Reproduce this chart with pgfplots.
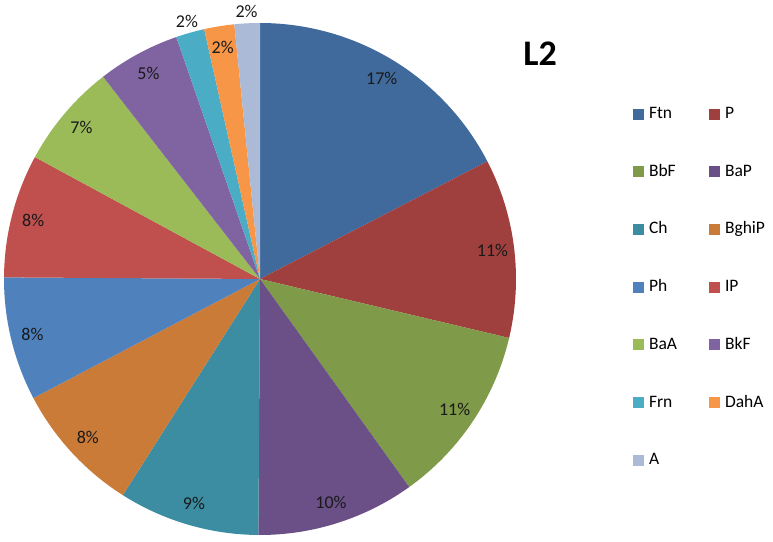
\documentclass[border=0pt]{standalone}
\usepackage{pgfplots}
\pgfplotsset{compat=1.18}
\usepackage{fontspec}
\setmainfont{Carlito}
\definecolor{cFtn}{HTML}{416A9C}
\definecolor{cP}{HTML}{A0403E}
\definecolor{cBbF}{HTML}{7F9A48}
\definecolor{cBaP}{HTML}{6A5086}
\definecolor{cCh}{HTML}{3C8DA2}
\definecolor{cBghiP}{HTML}{CB7B38}
\definecolor{cPh}{HTML}{4F81BD}
\definecolor{cIP}{HTML}{C0504D}
\definecolor{cBaA}{HTML}{9BBB59}
\definecolor{cBkF}{HTML}{8064A2}
\definecolor{cFrn}{HTML}{4BACC6}
\definecolor{cDahA}{HTML}{F79646}
\definecolor{cA}{HTML}{AABAD7}
\gdef\cum{0}
\newcommand\slice[4]{%
  \pgfmathsetmacro{\sa}{90-3.6*(\cum+#1)}%
  \pgfmathsetmacro{\sb}{90-3.6*\cum}%
  \pgfmathsetmacro{\sm}{(\sa+\sb)/2}%
  \pgfmathsetmacro{\snew}{\cum+#1}%
  \pgfmathtruncatemacro{\slab}{round(#1)}%
  \edef\scmd{\noexpand\addplot[draw=none, fill=#3, domain=\sa:\sb, samples=60] ({cos(x)},{sin(x)}) -- (axis cs:0,0) -- cycle;
  \noexpand\addlegendentry{#2}
  \noexpand\node[font=\noexpand\fontsize{18}{21}\noexpand\selectfont, text=black!90] at (axis cs:{#4*cos(\sm)},{#4*sin(\sm)}) {\slab\noexpand\%};}%
  \scmd
  \xdef\cum{\snew}%
}
\begin{document}
\begin{tikzpicture}
\begin{axis}[
  scale only axis, width=773pt, height=542pt,
  xmin=-1.015625, xmax=2.00390625, ymin=-1.02734375, ymax=1.08984375,
  hide axis, clip=false,
  legend columns=2,
  legend cell align=left,
  legend image code/.code={\fill[#1] (0pt,-5.5pt) rectangle (11pt,5.5pt);},
  legend style={at={(axis cs:1.457,0.6855)}, anchor=north west, draw=none, fill=none,
    inner sep=0pt, outer sep=0pt, row sep=36.7pt,
    font=\fontsize{17.5}{21}\selectfont,
    nodes={text height=12pt, text depth=3pt, inner xsep=5pt, inner ysep=3pt},
    /tikz/every even column/.append style={column sep=27pt}},
]
\path (rel axis cs:0,0) rectangle (rel axis cs:1,1);
\slice{17.4}{Ftn}{cFtn}{0.915}
\slice{11.3}{P}{cP}{0.915}
\slice{11.4}{BbF}{cBbF}{0.915}
\slice{10.0}{BaP}{cBaP}{0.915}
\slice{8.9}{Ch}{cCh}{0.915}
\slice{8.3}{BghiP}{cBghiP}{0.915}
\slice{7.8}{Ph}{cPh}{0.915}
\slice{7.8}{IP}{cIP}{0.915}
\slice{6.6}{BaA}{cBaA}{0.915}
\slice{5.2}{BkF}{cBkF}{0.915}
\slice{1.8}{Frn}{cFrn}{1.045}
\slice{1.9}{DahA}{cDahA}{0.915}
\slice{1.6}{A}{cA}{1.045}
\node[font=\bfseries\fontsize{36}{40}\selectfont] at (axis cs:1.09375,0.8805) {L2};
\end{axis}
\end{tikzpicture}
\end{document}
